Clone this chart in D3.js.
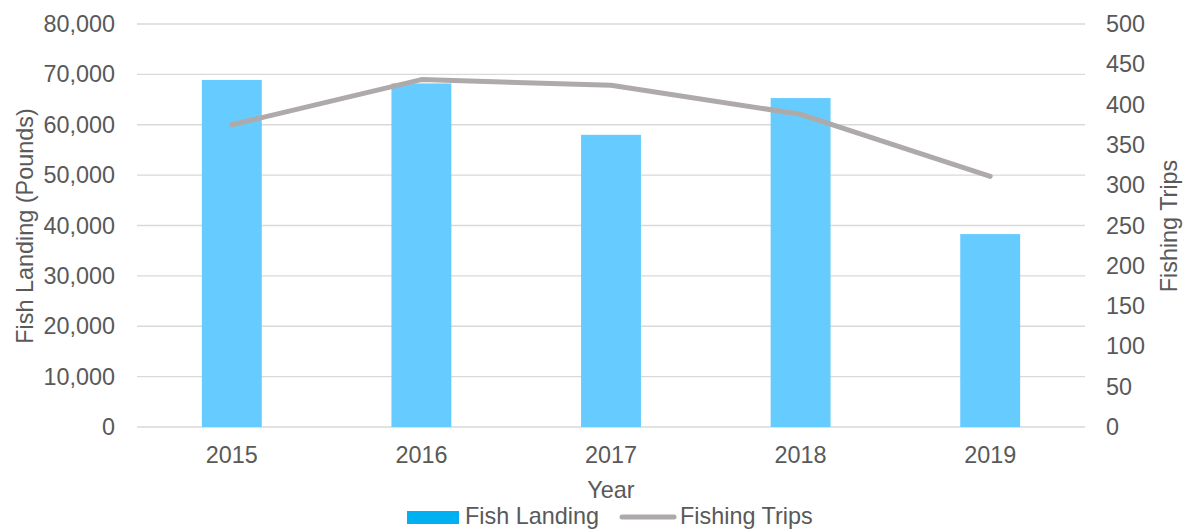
<!DOCTYPE html>
<html>
<head>
<meta charset="utf-8">
<script src="https://cdn.jsdelivr.net/npm/d3@7"></script>
<style>
  html, body { margin: 0; padding: 0; background: #fff; }
  svg { display: block; font-family: "Liberation Sans", Arial, sans-serif; }
</style>
</head>
<body>
<svg id="chart" width="1183" height="531"></svg>
<script>
// Yearly fish landings (bars, left axis) and fishing trips (line, right axis)
const years = ["2015", "2016", "2017", "2018", "2019"];
const fishLanding = [68900, 68200, 58000, 65300, 38300];
const fishingTrips = [375, 431, 424, 388, 311];
const leftTicks = [0, 10000, 20000, 30000, 40000, 50000, 60000, 70000, 80000];
const rightTicks = [0, 50, 100, 150, 200, 250, 300, 350, 400, 450, 500];

const svg = d3.select("#chart");
const margin = { left: 137, right: 1085, top: 24, bottom: 427 };
const textColor = "#595959";
const fontSize = 23.4;

const x = d3.scaleBand().domain(years).range([margin.left, margin.right])
  .paddingInner(0.684).paddingOuter(0.342);
const yL = d3.scaleLinear().domain([0, 80000]).range([margin.bottom, margin.top]);
const yR = d3.scaleLinear().domain([0, 500]).range([margin.bottom, margin.top]);

// horizontal gridlines
svg.append("g").selectAll("line").data(leftTicks).join("line")
  .attr("x1", margin.left).attr("x2", margin.right)
  .attr("y1", d => yL(d)).attr("y2", d => yL(d))
  .attr("stroke", "#d9d9d9").attr("stroke-width", 1.3);

// bars
svg.append("g").selectAll("rect").data(years).join("rect")
  .attr("x", d => x(d)).attr("width", x.bandwidth())
  .attr("y", (d, i) => yL(fishLanding[i]))
  .attr("height", (d, i) => yL(0) - yL(fishLanding[i]))
  .attr("fill", "#66CCFF");

// trips line
const line = d3.line()
  .x((d, i) => x(years[i]) + x.bandwidth() / 2)
  .y(d => yR(d));
svg.append("path").datum(fishingTrips)
  .attr("d", line).attr("fill", "none")
  .attr("stroke", "#AEAAAA").attr("stroke-width", 5)
  .attr("stroke-linecap", "round").attr("stroke-linejoin", "round");

// axes
const fmt = d3.format(",");
const leftAxis = svg.append("g").attr("transform", `translate(${margin.left},0)`)
  .call(d3.axisLeft(yL).tickValues(leftTicks).tickFormat(fmt).tickSize(0).tickPadding(22));
const rightAxis = svg.append("g").attr("transform", `translate(${margin.right},0)`)
  .call(d3.axisRight(yR).tickValues(rightTicks).tickSize(0).tickPadding(21));
const bottomAxis = svg.append("g").attr("transform", `translate(0,${margin.bottom})`)
  .call(d3.axisBottom(x).tickSize(0).tickPadding(19));

[leftAxis, rightAxis, bottomAxis].forEach(g => {
  g.select(".domain").remove();
  g.selectAll("text").attr("fill", textColor)
    .style("font-size", fontSize + "px")
    .style("font-family", '"Liberation Sans", Arial, sans-serif');
});

// axis titles
svg.append("text").attr("transform", "translate(33,226) rotate(-90)")
  .attr("text-anchor", "middle").attr("fill", textColor).style("font-size", fontSize + "px")
  .text("Fish Landing (Pounds)");
svg.append("text").attr("transform", "translate(1177,226) rotate(-90)")
  .attr("text-anchor", "middle").attr("fill", textColor).style("font-size", fontSize + "px")
  .text("Fishing Trips");
svg.append("text").attr("x", 611).attr("y", 498)
  .attr("text-anchor", "middle").attr("fill", textColor).style("font-size", fontSize + "px")
  .text("Year");

// legend
const legend = svg.append("g");
legend.append("rect").attr("x", 407).attr("y", 511).attr("width", 52).attr("height", 13)
  .attr("fill", "#00B0F0");
legend.append("text").attr("x", 465).attr("y", 524).attr("fill", textColor)
  .style("font-size", fontSize + "px").text("Fish Landing");
legend.append("line").attr("x1", 622).attr("x2", 674).attr("y1", 517).attr("y2", 517)
  .attr("stroke", "#AEAAAA").attr("stroke-width", 5).attr("stroke-linecap", "round");
legend.append("text").attr("x", 680).attr("y", 524).attr("fill", textColor)
  .style("font-size", fontSize + "px").text("Fishing Trips");
</script>
</body>
</html>
